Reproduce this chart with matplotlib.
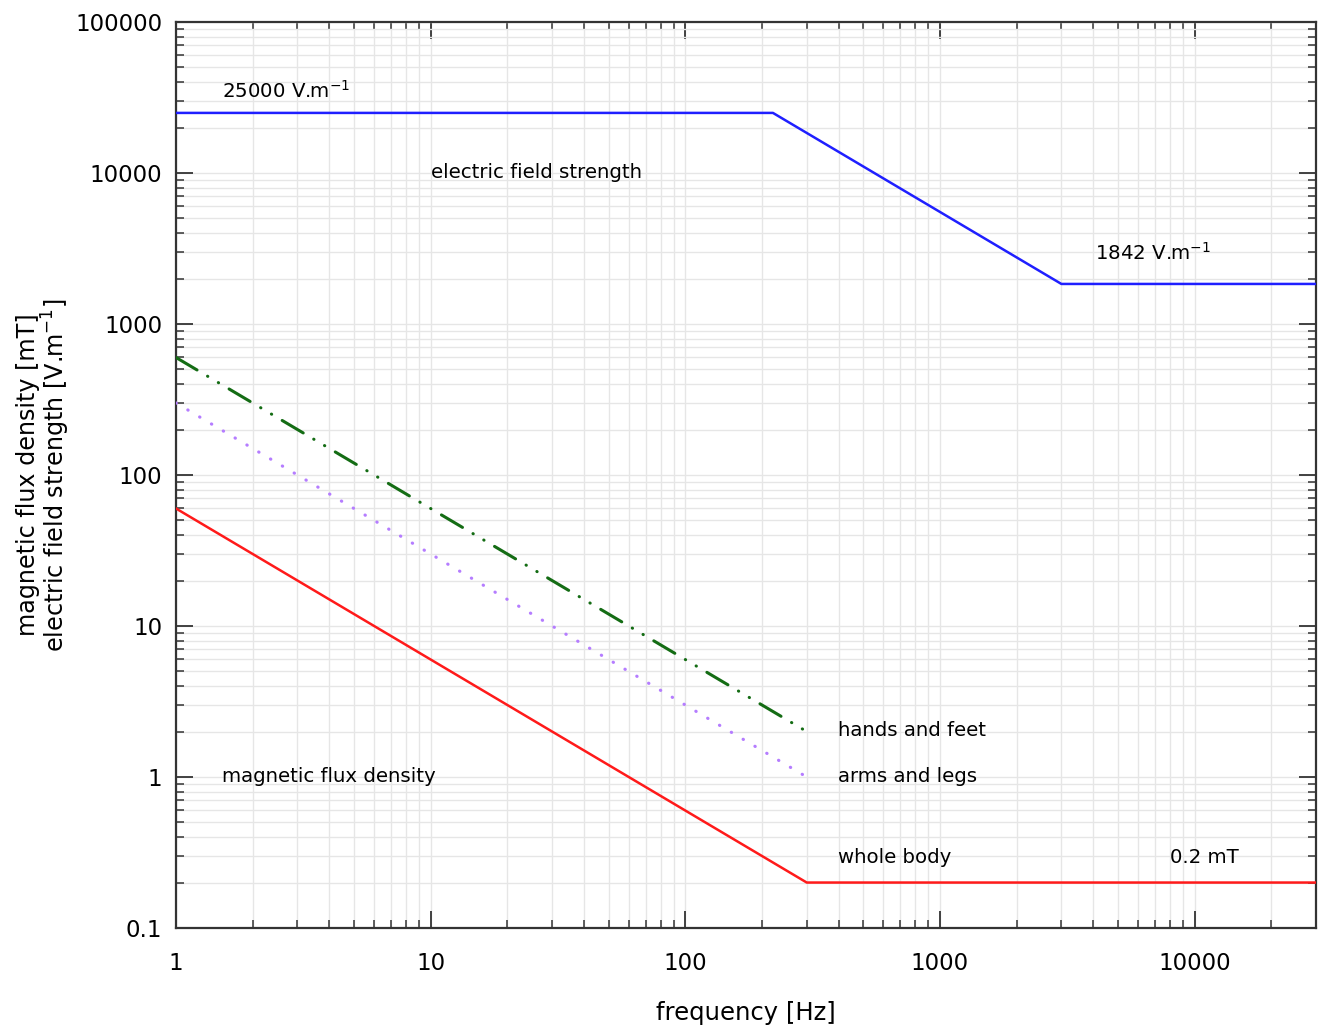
import matplotlib
matplotlib.use("Agg")
import matplotlib.pyplot as plt
from matplotlib.ticker import FixedLocator, LogLocator, NullFormatter, FixedFormatter

# data
e_freq = [1, 221, 3000, 30000]
e_field = [25000, 25000, 1842, 1842]
wb_freq = [1, 300, 30000]
wb_val = [60, 0.2, 0.2]
al_freq = [1, 300]
al_val = [300, 1]
hf_freq = [1, 300]
hf_val = [600, 2]

x_ticks = [1, 10, 100, 1000, 10000]
x_labels = ["1", "10", "100", "1000", "10000"]
y_ticks = [0.1, 1, 10, 100, 1000, 10000, 100000]
y_labels = ["0.1", "1", "10", "100", "1000", "10000", "100000"]

plt.rcParams['font.family'] = ['DejaVu Sans']
fig = plt.figure(figsize=(13.21, 10.30), dpi=100)
ax = fig.add_axes([176/1321, 102/1030, 1140/1321, 906/1030])
ax.set_xscale('log')
ax.set_yscale('log')
ax.set_xlim(1, 30000)
ax.set_ylim(0.1, 100000)

ax.plot(e_freq, e_field, color='#1f1fff', lw=1.8, zorder=3)
ax.plot(wb_freq, wb_val, color='#ff1a1a', lw=1.8, zorder=3)
ax.plot(al_freq, al_val, color='#b57dff', lw=2.3, dashes=(0.1, 4.2),
        dash_capstyle='round', zorder=3)
ax.plot(hf_freq, hf_val, color='#146c14', lw=2.2,
        dashes=(8.0, 4.0, 0.1, 4.0, 0.1, 4.0), dash_capstyle='round', zorder=3)

ax.xaxis.set_major_locator(FixedLocator(x_ticks))
ax.xaxis.set_major_formatter(FixedFormatter(x_labels))
ax.yaxis.set_major_locator(FixedLocator(y_ticks))
ax.yaxis.set_major_formatter(FixedFormatter(y_labels))
ax.xaxis.set_minor_locator(LogLocator(base=10, subs=range(2, 10), numticks=20))
ax.yaxis.set_minor_locator(LogLocator(base=10, subs=range(2, 10), numticks=20))
ax.xaxis.set_minor_formatter(NullFormatter())
ax.yaxis.set_minor_formatter(NullFormatter())

ax.tick_params(which='both', direction='in', top=True, right=True, colors='#333333',
               labelcolor='black', labelsize=16.5)
ax.tick_params(which='major', length=12, width=1.3)
ax.tick_params(which='minor', length=6, width=1.1)
ax.tick_params(axis='x', which='major', pad=17)
ax.tick_params(axis='y', which='major', pad=10)

ax.grid(True, which='both', color='#e6e6e6', lw=1.0, zorder=0)
for s in ax.spines.values():
    s.set_color('#333333')
    s.set_linewidth(1.6)

fs = 14.2
ax.text(1.52, 34900, "25000 V.m$^{-1}$", fontsize=fs, va='center', ha='left')
ax.text(10, 10000, "electric field strength", fontsize=fs, va='center', ha='left')
ax.text(4050, 2950, "1842 V.m$^{-1}$", fontsize=fs, va='center', ha='left')
ax.text(1.52, 1.0, "magnetic flux density", fontsize=fs, va='center', ha='left')
ax.text(397, 2.02, "hands and feet", fontsize=fs, va='center', ha='left')
ax.text(397, 1.0, "arms and legs", fontsize=fs, va='center', ha='left')
ax.text(397, 0.295, "whole body", fontsize=fs, va='center', ha='left')
ax.text(8000, 0.295, "0.2 mT", fontsize=fs, va='center', ha='left')

ax.set_xlabel("frequency [Hz]", fontsize=17.5, labelpad=19)
ax.set_ylabel("magnetic flux density [mT]\nelectric field strength [V.m$^{-1}$]",
              fontsize=17.2, labelpad=2, linespacing=1.0)

fig.savefig("out.png", dpi=100)
